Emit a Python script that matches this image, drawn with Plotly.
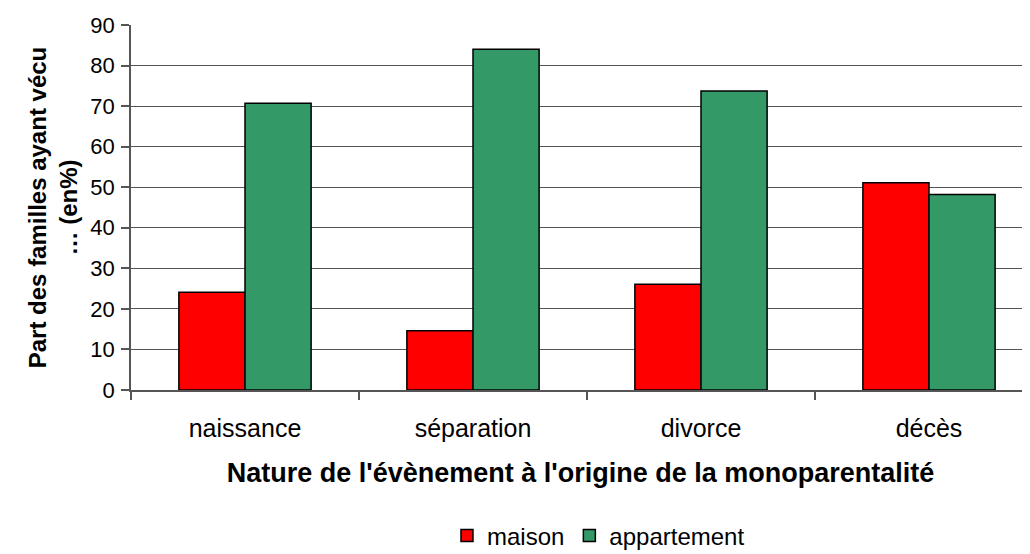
import plotly.graph_objects as go

categories = ["naissance", "séparation", "divorce", "décès"]
maison = [24.1, 14.6, 26.1, 51.1]
appartement = [70.7, 84.0, 73.7, 48.2]
series_names = ["maison", "appartement"]
colors = ["#FF0000", "#339966"]

x = list(range(len(categories)))
fig = go.Figure()
for name, vals, col in zip(series_names, [maison, appartement], colors):
    fig.add_trace(go.Bar(x=x, y=vals, name=name, marker=dict(color=col, line=dict(color="black", width=1.5))))

font = "Liberation Sans, Arial, sans-serif"
fig.update_layout(
    width=1022, height=546,
    margin=dict(l=123, r=0, t=17, b=164, autoexpand=False),
    plot_bgcolor="white", paper_bgcolor="white",
    barmode="group", bargap=0.42, bargroupgap=0,
    font=dict(family=font, color="black", size=22),
    legend=dict(orientation="h", x=0.52, xanchor="center", y=-0.40, yanchor="middle",
                font=dict(size=24), traceorder="normal", itemwidth=30),
    showlegend=True,
)
fig.update_xaxes(
    range=[-0.5, 3.5 - 13 / 228], tickmode="array", tickvals=x, ticktext=categories,
    ticks="outside", ticklen=0, ticklabelstandoff=15, tickfont=dict(size=25),
    showline=True, linecolor="#555555", linewidth=1.5, showgrid=False,
    minor=dict(tickmode="array", tickvals=[-0.5, 0.5, 1.5, 2.5, 3.5], ticks="outside", ticklen=8, tickcolor="#555555", tickwidth=1.5),
    title=dict(text="<b>Nature de l'évènement à l'origine de la monoparentalité</b>", font=dict(size=27), standoff=22),
    zeroline=False, automargin=False,
)
fig.update_yaxes(
    range=[0, 90], dtick=10, ticks="outside", ticklen=8, tickcolor="#555555", tickwidth=1.5,
    showline=True, linecolor="#555555", linewidth=1.5, ticklabelstandoff=2,
    showgrid=True, gridcolor="#555555", gridwidth=1, zeroline=False,
    tickfont=dict(size=22),
    title=dict(text="<b>Part des familles ayant vécu<br>… (en%)</b>", font=dict(size=24), standoff=6),
    automargin=False,
)
fig.write_html("out.html")
